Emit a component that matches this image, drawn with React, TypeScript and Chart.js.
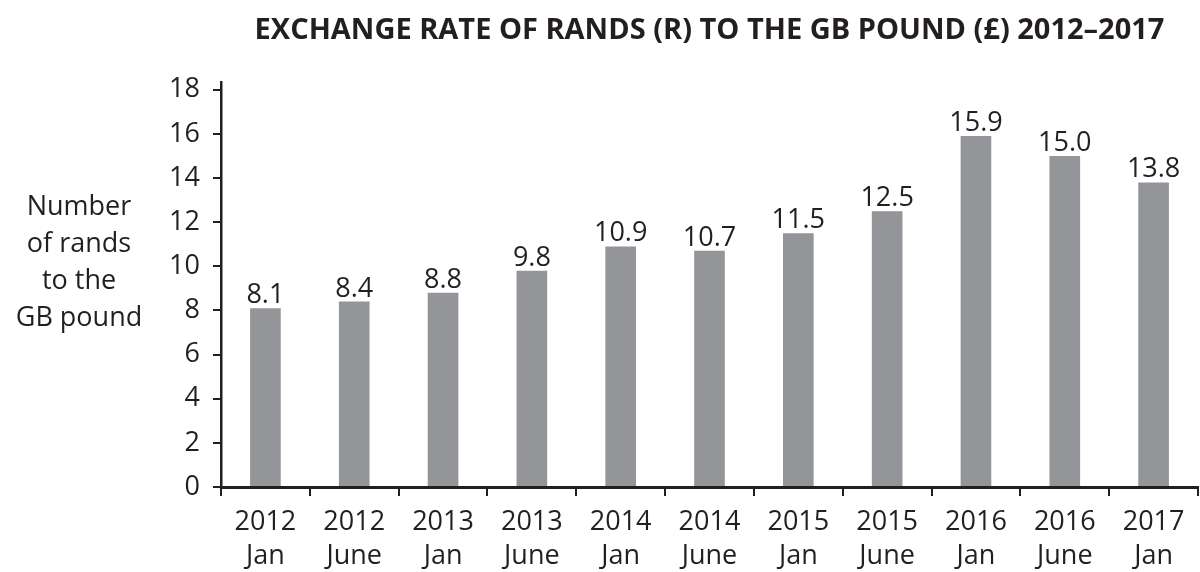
import React, { useEffect, useRef } from "react";
import { Chart, registerables } from "chart.js";

Chart.register(...registerables);

const chartTitle = "EXCHANGE RATE OF RANDS (R) TO THE GB POUND (£) 2012–2017";
const years = ["2012", "2012", "2013", "2013", "2014", "2014", "2015", "2015", "2016", "2016", "2017"];
const months = ["Jan", "June", "Jan", "June", "Jan", "June", "Jan", "June", "Jan", "June", "Jan"];
const rates = [8.1, 8.4, 8.8, 9.8, 10.9, 10.7, 11.5, 12.5, 15.9, 15.0, 13.8];
const yTickValues = [0, 2, 4, 6, 8, 10, 12, 14, 16, 18];
const yTitleLines = ["Number", "of rands", "to the", "GB pound"];

const DARK = "#231f20";
const BAR = "#939598";
const FONT = '"Open Sans", "Noto Sans", sans-serif';

const valueLabels = {
  id: "valueLabels",
  afterDatasetsDraw(chart: any) {
    const ctx = chart.ctx;
    const meta = chart.getDatasetMeta(0);
    ctx.save();
    ctx.font = `27px ${FONT}`;
    ctx.fillStyle = DARK;
    ctx.textAlign = "center";
    ctx.textBaseline = "alphabetic";
    meta.data.forEach((bar: any, i: number) => {
      ctx.fillText(rates[i].toFixed(1), bar.x, bar.y - 5);
    });
    ctx.restore();
  },
};

const yTitle = {
  id: "yTitle",
  afterDraw(chart: any) {
    const ctx = chart.ctx;
    ctx.save();
    ctx.font = `27px ${FONT}`;
    ctx.fillStyle = DARK;
    ctx.textAlign = "center";
    ctx.textBaseline = "alphabetic";
    yTitleLines.forEach((line, i) => {
      ctx.fillText(line, 79, 215 + i * 37);
    });
    ctx.restore();
  },
};

export default function App() {
  const ref = useRef<HTMLCanvasElement | null>(null);

  useEffect(() => {
    if (!ref.current) return;
    const labels = years.map((y, i) => [y, months[i]]);
    const chart = new Chart(ref.current, {
      type: "bar",
      data: {
        labels,
        datasets: [
          {
            data: rates,
            backgroundColor: BAR,
            borderWidth: 0,
            barPercentage: 0.345,
            categoryPercentage: 1,
          },
        ],
      },
      options: {
        responsive: false,
        animation: false,
        devicePixelRatio: 1,
        layout: { padding: { left: 0, right: 2, top: 0, bottom: 0 } },
        plugins: {
          legend: { display: false },
          tooltip: { enabled: false },
          title: {
            display: true,
            text: chartTitle,
            fullSize: false,
            color: DARK,
            font: { family: FONT, size: 29, weight: "bold" },
            padding: { top: 13, bottom: 34 },
          },
        },
        scales: {
          x: {
            offset: true,
            grid: {
              offset: true,
              drawOnChartArea: false,
              drawTicks: true,
              tickLength: 9,
              lineWidth: 2,
              color: DARK,
            },
            border: { display: true, color: DARK, width: 3 },
            ticks: {
              color: DARK,
              font: { family: FONT, size: 27, lineHeight: 1.23 },
              padding: 10,
              maxRotation: 0,
              autoSkip: false,
            },
            afterFit(scale: any) {
              scale.height = 85;
            },
          },
          y: {
            min: 0,
            max: 18.36,
            afterBuildTicks(scale: any) {
              scale.ticks = yTickValues.map((v) => ({ value: v }));
            },
            grid: {
              drawOnChartArea: false,
              drawTicks: true,
              tickLength: 8,
              lineWidth: 2,
              color: DARK,
            },
            border: { display: true, color: DARK, width: 2.5 },
            ticks: {
              color: DARK,
              font: { family: FONT, size: 27 },
              padding: 13,
            },
            afterFit(scale: any) {
              scale.width = 221;
            },
          },
        },
      },
      plugins: [valueLabels, yTitle],
    });
    return () => chart.destroy();
  }, []);

  return (
    <div style={{ position: "absolute", left: 0, top: 0, width: 1200, height: 572 }}>
      <canvas ref={ref} width={1200} height={572} />
    </div>
  );
}
